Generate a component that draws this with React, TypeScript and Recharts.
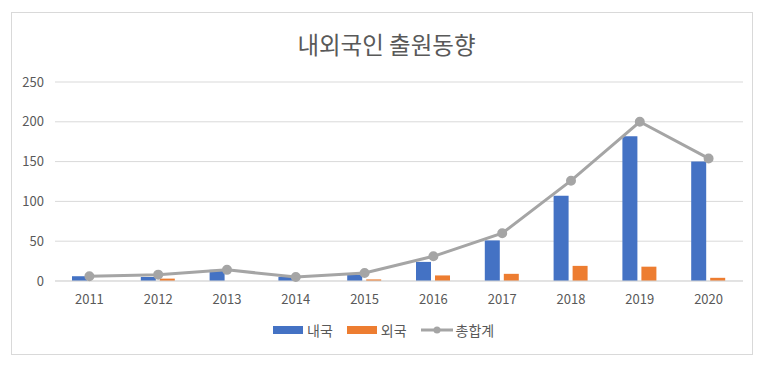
import React from "react";
import {
  ComposedChart,
  Bar,
  Line,
  XAxis,
  YAxis,
  CartesianGrid,
} from "recharts";

const years = ["2011", "2012", "2013", "2014", "2015", "2016", "2017", "2018", "2019", "2020"];
const domestic = [6, 5, 14, 5, 8, 24, 51, 107, 182, 150];
const foreign = [0, 3, 0, 0, 2, 7, 9, 19, 18, 4];
const total = [6, 8, 14, 5, 10, 31, 60, 126, 200, 154];
const yTicks = [0, 50, 100, 150, 200, 250];

const data = years.map((year, i) => ({
  year,
  내국: domestic[i],
  외국: foreign[i],
  총합계: total[i],
}));

const FONT = "'Noto Sans CJK KR', 'Noto Sans', sans-serif";
const TEXT = "#595959";

const LegendItem = ({ color, label, line }: { color: string; label: string; line?: boolean }) => (
  <div style={{ display: "flex", alignItems: "center", marginRight: 14 }}>
    {line ? (
      <svg width={32} height={10} style={{ marginRight: 3 }}>
        <line x1={0} y1={5} x2={32} y2={5} stroke={color} strokeWidth={3} />
        <circle cx={16} cy={5} r={3.5} fill={color} />
      </svg>
    ) : (
      <div style={{ width: 30, height: 8, background: color, marginRight: 4 }} />
    )}
    <span style={{ fontSize: 14, color: TEXT }}>{label}</span>
  </div>
);

export default function App() {
  return (
    <div style={{ position: "absolute", left: 0, top: 0, width: 773, height: 366, background: "#fff", fontFamily: FONT }}>
      <div
        style={{
          position: "absolute",
          left: 11,
          top: 12,
          width: 740,
          height: 341,
          border: "1px solid #d9d9d9",
        }}
      />
      <div
        style={{
          position: "absolute",
          left: 0,
          top: 28,
          width: 773,
          textAlign: "center",
          fontSize: 23.5,
          color: TEXT,
          lineHeight: "32px",
        }}
      >
        내외국인 출원동향
      </div>
      <div style={{ position: "absolute", left: 0, top: 0 }}>
        <ComposedChart
          width={773}
          height={366}
          data={data}
          margin={{ top: 82, right: 30, left: 0, bottom: 55 }}
          barGap={4}
          barSize={15}
        >
          <CartesianGrid vertical={false} stroke="#d9d9d9" />
          <XAxis
            dataKey="year"
            tickLine={false}
            axisLine={{ stroke: "#d9d9d9" }}
            height={30}
            tickMargin={8}
            tick={{ fill: TEXT, fontSize: 13, fontFamily: FONT }}
          />
          <YAxis
            width={55}
            domain={[0, 250]}
            ticks={yTicks}
            tickLine={false}
            axisLine={false}
            tickMargin={5}
            tick={{ fill: TEXT, fontSize: 13, fontFamily: FONT }}
          />
          <Bar dataKey="내국" fill="#4472C4" isAnimationActive={false} />
          <Bar dataKey="외국" fill="#ED7D31" isAnimationActive={false} />
          <Line
            dataKey="총합계"
            stroke="#A5A5A5"
            strokeWidth={3}
            dot={{ r: 3.5, fill: "#A5A5A5", stroke: "#A5A5A5" }}
            isAnimationActive={false}
          />
        </ComposedChart>
      </div>
      <div
        style={{
          position: "absolute",
          left: 273,
          top: 320,
          display: "flex",
          alignItems: "center",
          height: 20,
        }}
      >
        <LegendItem color="#4472C4" label="내국" />
        <LegendItem color="#ED7D31" label="외국" />
        <LegendItem color="#A5A5A5" label="총합계" line />
      </div>
    </div>
  );
}
